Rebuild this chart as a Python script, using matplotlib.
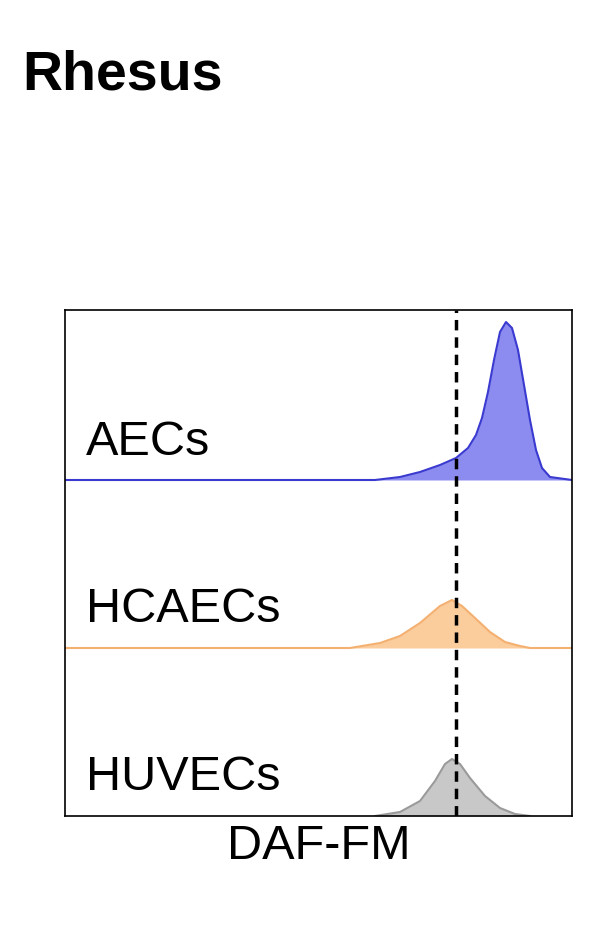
import matplotlib
matplotlib.use("Agg")
import matplotlib.pyplot as plt

plt.rcParams["font.family"] = ["Liberation Sans", "DejaVu Sans"]

# curve samples: x position on the DAF-FM axis, height above each track baseline
aec_x = [65, 375, 400, 420, 440, 456, 468, 476, 482, 488, 494, 500, 506, 512, 518, 524, 530, 536, 542, 550, 572]
aec_h = [0, 0, 3, 8, 15, 22, 32, 45, 62, 88, 120, 148, 158, 152, 130, 95, 60, 30, 12, 3, 0]
hca_x = [65, 350, 380, 400, 420, 440, 452, 462, 475, 490, 505, 520, 530, 572]
hca_h = [0, 0, 5, 12, 25, 42, 48, 42, 30, 16, 6, 2, 0, 0]
huv_x = [375, 400, 420, 435, 445, 452, 460, 470, 485, 500, 515, 530]
huv_h = [0, 4, 15, 35, 52, 57, 52, 38, 20, 8, 2, 0]
labels = ["AECs", "HCAECs", "HUVECs"]
baselines = [480, 648, 816]
cut = 456

fig = plt.figure(figsize=(5.93, 9.44), dpi=100)
fig.text(22 / 593, 1 - 75 / 944, "Rhesus", fontsize=40, fontweight="bold",
         va="center", ha="left")
ax = fig.add_axes([65 / 593, 1 - 816 / 944, 507 / 593, 506 / 944])

series = [(aec_x, aec_h, "#3a3ad0", "#8c8cf0"),
          (hca_x, hca_h, "#f4b070", "#fbcc9c"),
          (huv_x, huv_h, "#9a9a9a", "#c8c8c8")]
for (xs, hs, lc, fc), base, lab in zip(series, baselines, labels):
    ys = [base - h for h in hs]
    ax.fill_between(xs, ys, base, color=fc, lw=0)
    ax.plot(xs, ys, color=lc, lw=1.5)
    ax.text(86, base - 38, lab, fontsize=35, va="center", ha="left")

ax.axvline(cut, color="black", ls=(0, (3, 2)), lw=2.5)
ax.set_xlim(65, 572)
ax.set_ylim(816, 310)
ax.set_xticks([])
ax.set_yticks([])
for s in ax.spines.values():
    s.set_linewidth(1.2)
ax.set_xlabel("DAF-FM", fontsize=35, labelpad=6)

fig.savefig("out.png", dpi=100)
